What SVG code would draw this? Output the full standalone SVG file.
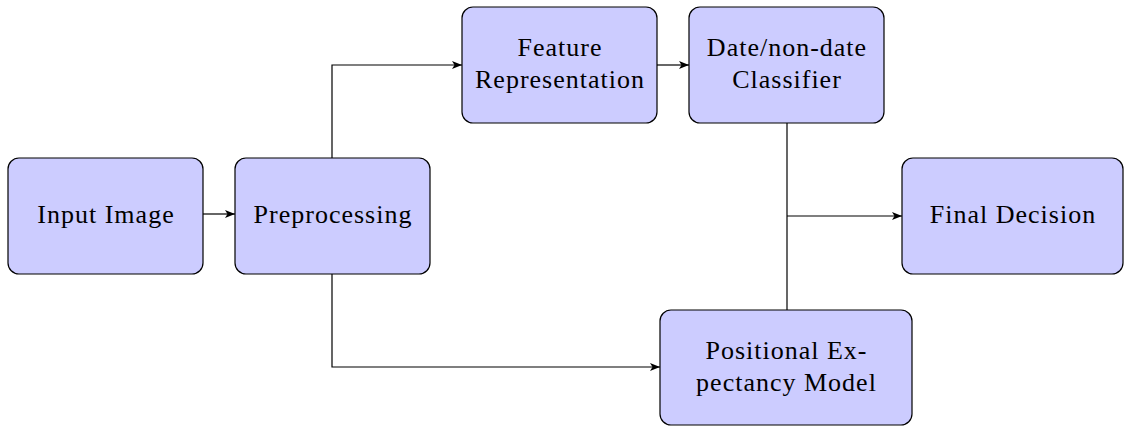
<svg xmlns="http://www.w3.org/2000/svg" width="1124" height="426" viewBox="0 0 1124 426">
<style>
.box{fill:#ccccff;stroke:#000;stroke-width:1.2}
.t{font-family:"Liberation Serif","Times New Roman",serif;font-size:26px;letter-spacing:1px;fill:#000;text-anchor:middle}
.c{fill:none;stroke:#000;stroke-width:1.2}
</style>
<defs>
<marker id="a" viewBox="0 0 10 8" refX="10" refY="4" markerWidth="10" markerHeight="8" markerUnits="userSpaceOnUse" orient="auto">
<path d="M0,0 L10,4 L0,8 L2.5,4 Z" fill="#000"/>
</marker>
</defs>
<g id="connectors">
<path class="c" d="M203,214 H235" marker-end="url(#a)"/>
<path class="c" d="M332,158 V65 H462" marker-end="url(#a)"/>
<path class="c" d="M657,65 H689" marker-end="url(#a)"/>
<path class="c" d="M332,274 V367 H660" marker-end="url(#a)"/>
<path class="c" d="M787,123 V310"/>
<path class="c" d="M787,216 H902" marker-end="url(#a)"/>
</g>
<g id="input"><rect class="box" x="8" y="158" width="195" height="116" rx="11"/><text class="t" x="106" y="223">Input Image</text></g>
<g id="preprocessing"><rect class="box" x="235" y="158" width="195" height="116" rx="11"/><text class="t" x="333" y="223">Preprocessing</text></g>
<g id="feature"><rect class="box" x="462" y="7" width="195" height="116" rx="11"/><text class="t" x="560" y="56">Feature</text><text class="t" x="560" y="88">Representation</text></g>
<g id="classifier"><rect class="box" x="689" y="7" width="195" height="116" rx="11"/><text class="t" x="787" y="56">Date/non-date</text><text class="t" x="787" y="88">Classifier</text></g>
<g id="final"><rect class="box" x="902" y="158" width="221" height="116" rx="11"/><text class="t" x="1013" y="223">Final Decision</text></g>
<g id="positional"><rect class="box" x="660" y="310" width="252" height="115" rx="11"/><text class="t" x="786.5" y="359">Positional Ex-</text><text class="t" x="786.5" y="391">pectancy Model</text></g>
</svg>
